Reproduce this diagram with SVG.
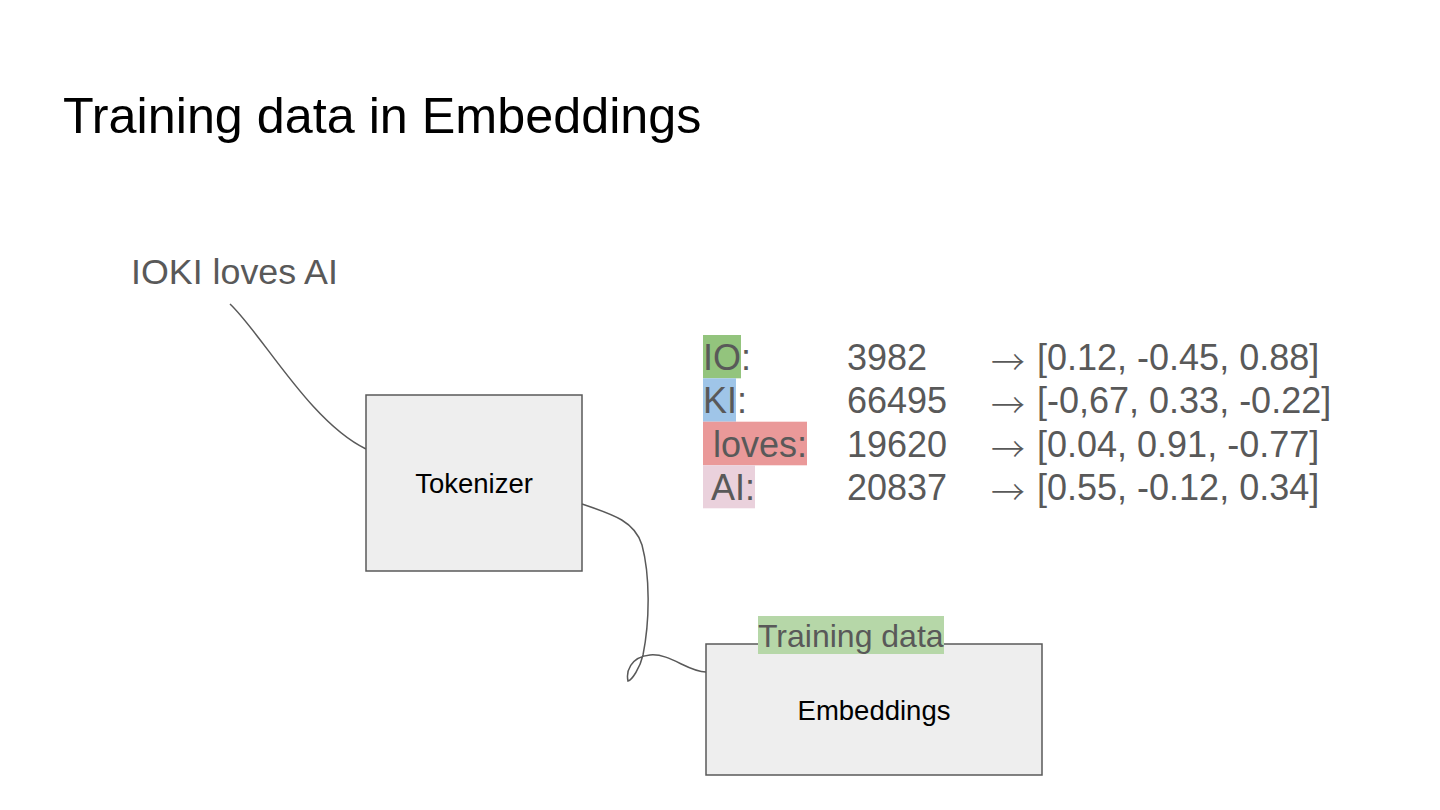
<svg xmlns="http://www.w3.org/2000/svg" width="1440" height="810" viewBox="0 0 1440 810">
  <style>
    text { font-family: "Liberation Sans", Arial, sans-serif; }
    .title { font-size: 50.3px; fill: #000000; }
    .grey { fill: #595959; }
    .row { font-size: 36px; fill: #595959; }
    .arrow { font-family: "Noto Sans CJK JP", "Noto Sans CJK SC", sans-serif; font-weight: 300; font-size: 34px; fill: #595959; }
    .box { fill: #eeeeee; stroke: #595959; stroke-width: 1.5; }
    .boxlabel { font-size: 27.5px; fill: #000000; text-anchor: middle; }
    .conn { fill: none; stroke: #595959; stroke-width: 1.5; }
  </style>
  <rect width="1440" height="810" fill="#ffffff"/>

  <text class="title" x="63" y="133">Training data in Embeddings</text>

  <g id="input">
    <text class="grey" x="131" y="284" font-size="35.8">IOKI loves AI</text>
  </g>

  <g id="connectors">
    <path class="conn" d="M230,304 C262,334 310,422 366,449"/>
    <path class="conn" d="M582,504 C615,515 635,522 642,545 C650,575 650,620 643,655 C640,668 632,680 628,681 C626,672 630,657 650,655 C670,653 688,672 706,672"/>
  </g>

  <g id="tokenizer">
    <rect class="box" x="366" y="395" width="216" height="176"/>
    <text class="boxlabel" x="474" y="493">Tokenizer</text>
  </g>

  <g id="embeddings">
    <rect class="box" x="706" y="644" width="336" height="131"/>
    <text class="boxlabel" x="874" y="720" font-size="28.5">Embeddings</text>
    <rect x="758" y="616" width="186" height="38" fill="#b6d7a8"/>
    <text class="grey" x="758" y="647" font-size="32">Training data</text>
  </g>

  <g id="tokens">
    <rect x="703" y="335" width="38" height="43.3" fill="#93c47d"/>
    <rect x="703" y="378.3" width="33" height="43.4" fill="#9fc5e8"/>
    <rect x="703" y="421.7" width="104" height="43.6" fill="#ea9999"/>
    <rect x="703" y="465.3" width="52" height="43" fill="#ead1dc"/>

    <text class="row" x="703" y="370">IO:</text>
    <text class="row" x="847" y="370">3982</text>
    <text class="arrow" x="991" y="375">→</text>
    <text class="row" x="1037" y="370">[0.12, -0.45, 0.88]</text>

    <text class="row" x="703" y="413.3">KI:</text>
    <text class="row" x="847" y="413.3">66495</text>
    <text class="arrow" x="991" y="418.3">→</text>
    <text class="row" x="1037" y="413.3">[-0,67, 0.33, -0.22]</text>

    <text class="row" x="713" y="456.7">loves:</text>
    <text class="row" x="847" y="456.7">19620</text>
    <text class="arrow" x="991" y="461.7">→</text>
    <text class="row" x="1037" y="456.7">[0.04, 0.91, -0.77]</text>

    <text class="row" x="711" y="500">AI:</text>
    <text class="row" x="847" y="500">20837</text>
    <text class="arrow" x="991" y="505">→</text>
    <text class="row" x="1037" y="500">[0.55, -0.12, 0.34]</text>
  </g>
</svg>
